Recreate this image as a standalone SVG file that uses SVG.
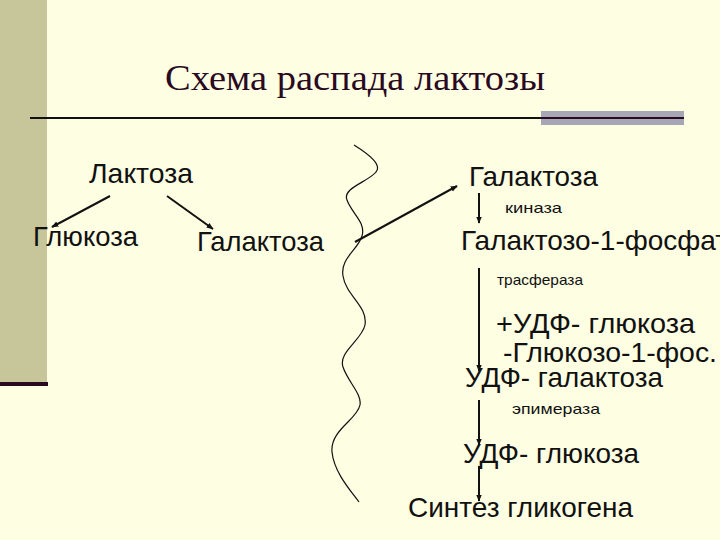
<svg xmlns="http://www.w3.org/2000/svg" width="720" height="540" viewBox="0 0 720 540">
<defs>
<marker id="ah" viewBox="0 0 10 10" refX="9" refY="5" markerWidth="7" markerHeight="7" orient="auto" markerUnits="userSpaceOnUse">
<path d="M0,1 L10,5 L0,9 z" fill="#111"/>
</marker>
<style>
.t{font-family:"Liberation Sans",Arial,sans-serif;fill:#111;font-size:28px}
.s{font-family:"Liberation Sans",Arial,sans-serif;fill:#111;font-size:15px}
.c{stroke:#111;stroke-width:2;fill:none}
</style>
</defs>
<rect width="720" height="540" fill="#FEFEE3"/>
<rect x="0" y="0" width="47" height="382" fill="#C6C69A"/>
<rect x="0" y="382" width="48" height="4" fill="#2A0A22"/>
<line x1="30" y1="118" x2="541" y2="118" stroke="#111" stroke-width="2"/>
<rect x="541" y="111" width="143" height="14" fill="#A6A6B4"/>
<line x1="541" y1="118" x2="684" y2="118" stroke="#2A0A22" stroke-width="2"/>
<text x="355" y="90" text-anchor="middle" font-family="'Liberation Serif','Times New Roman',serif" font-size="36" fill="#2A0A22" textLength="380" lengthAdjust="spacingAndGlyphs">Схема распада лактозы</text>
<path d="M354,145 C370,155 382,165 376,172 C368,182 342,188 347,200 C352,214 366,222 362,236 C358,250 340,258 343,276 C346,296 368,306 365,325 C362,340 338,352 343,367 C348,382 362,394 360,405 C357,420 330,430 332,452 C334,472 350,490 359,502" stroke="#111" stroke-width="1.2" fill="none"/>
<g id="connectors">
<line class="c" x1="110" y1="196" x2="52" y2="227" marker-end="url(#ah)"/>
<line class="c" x1="167" y1="196" x2="213" y2="229" marker-end="url(#ah)"/>
<line class="c" x1="355" y1="242" x2="457" y2="186" marker-end="url(#ah)"/>
<line class="c" x1="479" y1="193" x2="479" y2="223" marker-end="url(#ah)"/>
<line class="c" x1="479" y1="268" x2="479" y2="371" marker-end="url(#ah)"/>
<line class="c" x1="479" y1="400" x2="479" y2="445" marker-end="url(#ah)"/>
<line class="c" x1="479" y1="466" x2="479" y2="501" marker-end="url(#ah)"/>
</g>
<g id="lactose"><text class="t" x="89" y="183" textLength="104" lengthAdjust="spacingAndGlyphs">Лактоза</text></g>
<g id="glucose"><text class="t" x="33" y="246" textLength="105" lengthAdjust="spacingAndGlyphs">Глюкоза</text></g>
<g id="galactose1"><text class="t" x="197" y="251" textLength="127" lengthAdjust="spacingAndGlyphs">Галактоза</text></g>
<g id="galactose2"><text class="t" x="469" y="186" textLength="129" lengthAdjust="spacingAndGlyphs">Галактоза</text></g>
<g id="kinase"><text class="s" x="505" y="213" textLength="57" lengthAdjust="spacingAndGlyphs">киназа</text></g>
<g id="gal1p"><text class="t" x="461" y="250">Галактозо-1-фосфат</text></g>
<g id="transferase"><text class="s" x="497" y="285" textLength="86" lengthAdjust="spacingAndGlyphs">трасфераза</text></g>
<g id="udpglc-plus"><text class="t" x="496" y="333" textLength="199" lengthAdjust="spacingAndGlyphs">+УДФ- глюкоза</text></g>
<g id="glc1p-minus"><text class="t" x="503" y="362" textLength="214" lengthAdjust="spacingAndGlyphs">-Глюкозо-1-фос.</text></g>
<g id="udpgal"><text class="t" x="465" y="387" textLength="198" lengthAdjust="spacingAndGlyphs">УДФ- галактоза</text></g>
<g id="epimerase"><text class="s" x="512" y="414" textLength="88" lengthAdjust="spacingAndGlyphs">эпимераза</text></g>
<g id="udpglc"><text class="t" x="463" y="463" textLength="176" lengthAdjust="spacingAndGlyphs">УДФ- глюкоза</text></g>
<g id="glycogen"><text class="t" x="408" y="517" textLength="225" lengthAdjust="spacingAndGlyphs">Синтез гликогена</text></g>
</svg>
